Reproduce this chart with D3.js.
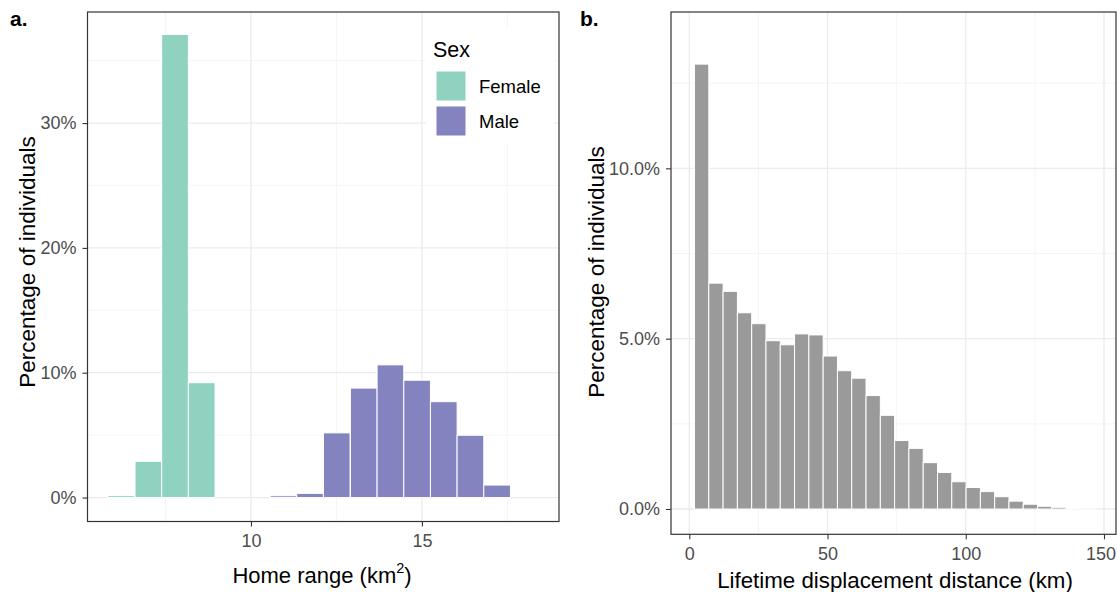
<!DOCTYPE html>
<html>
<head>
<meta charset="utf-8">
<script src="https://cdn.jsdelivr.net/npm/d3@7"></script>
<style>
  body { margin: 0; background: #fff; }
  svg { display: block; font-family: "Liberation Sans", Arial, sans-serif; }
  .tick text { fill: #4d4d4d; }
  .tick line { stroke: #333; }
</style>
</head>
<body>
<div id="chart"></div>
<script>
// panel a: home range histogram by sex (bin centres, % of individuals)
const femaleBins = [6.21, 7.0, 7.78, 8.56];
const femalePct = [0.15, 2.9, 37.1, 9.2];
const maleBins = [10.95, 11.73, 12.51, 13.3, 14.08, 14.86, 15.64, 16.42, 17.2];
const malePct = [0.14, 0.33, 5.18, 8.77, 10.63, 9.4, 7.68, 4.99, 1.0];
const sexLabels = ["Female", "Male"];
const homeTicks = [10, 15];
const homePctTicks = [0, 10, 20, 30];

// panel b: lifetime displacement distance histogram
const distBins = [4.47, 9.64, 14.81, 19.98, 25.15, 30.32, 35.49, 40.66, 45.83, 51.0,
  56.17, 61.34, 66.51, 71.68, 76.85, 82.02, 87.19, 92.36, 97.53, 102.7,
  107.87, 113.04, 118.21, 123.38, 128.55, 133.72, 138.89, 144.06];
const distPct = [13.06, 6.63, 6.39, 5.76, 5.44, 4.94, 4.82, 5.14, 5.11, 4.49,
  4.06, 3.84, 3.33, 2.75, 2.01, 1.78, 1.36, 1.07, 0.8, 0.63,
  0.51, 0.36, 0.23, 0.14, 0.08, 0.05, 0.02, 0.01];
const distTicks = [0, 50, 100, 150];
const distPctTicks = [0, 5, 10];

const colFemale = "#8ed2bf", colMale = "#8383bf", colGrey = "#9a9a9a";

const svg = d3.select("#chart").append("svg")
  .attr("width", 1117).attr("height", 592);

function panel(opt) {
  let x = d3.scaleLinear().domain(opt.xDomain).range([opt.left, opt.right]);
  let y = d3.scaleLinear().domain(opt.yDomain).range([opt.bottom, opt.top]);
  let g = svg.append("g");

  // grid
  let grid = g.append("g").attr("fill", "none");
  opt.xMinor.forEach(v => grid.append("line").attr("x1", x(v)).attr("x2", x(v))
    .attr("y1", opt.top).attr("y2", opt.bottom).attr("stroke", "#f0f0f0").attr("stroke-width", 0.7));
  opt.yMinor.forEach(v => grid.append("line").attr("y1", y(v)).attr("y2", y(v))
    .attr("x1", opt.left).attr("x2", opt.right).attr("stroke", "#f0f0f0").attr("stroke-width", 0.7));
  opt.xTicks.forEach(v => grid.append("line").attr("x1", x(v)).attr("x2", x(v))
    .attr("y1", opt.top).attr("y2", opt.bottom).attr("stroke", "#ebebeb").attr("stroke-width", 1.3));
  opt.yTicks.forEach(v => grid.append("line").attr("y1", y(v)).attr("y2", y(v))
    .attr("x1", opt.left).attr("x2", opt.right).attr("stroke", "#ebebeb").attr("stroke-width", 1.3));

  // bars
  opt.series.forEach(s => {
    g.append("g").selectAll("rect")
      .data(s.bins.map((b, i) => ({b: b, v: s.values[i]})))
      .join("rect")
      .attr("x", d => x(d.b - opt.binWidth / 2))
      .attr("width", d => x(d.b + opt.binWidth / 2) - x(d.b - opt.binWidth / 2))
      .attr("y", d => y(d.v))
      .attr("height", d => y(0) - y(d.v))
      .attr("fill", s.color)
      .attr("stroke", "#fff")
      .attr("stroke-width", 1);
  });

  // axes
  let xa = g.append("g").attr("transform", `translate(0,${opt.bottom})`)
    .call(d3.axisBottom(x).tickValues(opt.xTicks).tickSize(5).tickPadding(8).tickSizeOuter(0));
  let ya = g.append("g").attr("transform", `translate(${opt.left},0)`)
    .call(d3.axisLeft(y).tickValues(opt.yTicks).tickSize(5).tickPadding(6).tickFormat(opt.yFormat));
  [xa, ya].forEach(a => {
    a.select(".domain").remove();
    a.selectAll("text").attr("font-size", 18).attr("font-family", "Liberation Sans, Arial, sans-serif");
    a.selectAll("line").attr("stroke-width", 1.1);
  });

  // keep a label that sits on the window edge inside it
  xa.selectAll(".tick text").each(function() {
    let bb = this.getBBox(), t = this.parentNode.getAttribute("transform");
    let tx = +t.match(/translate\(([-\d.]+)/)[1];
    if (tx + bb.x + bb.width > 1116) {
      d3.select(this).attr("text-anchor", "end").attr("x", 1116 - tx);
    }
  });

  // border
  g.append("rect").attr("x", opt.left).attr("y", opt.top)
    .attr("width", opt.right - opt.left).attr("height", opt.bottom - opt.top)
    .attr("fill", "none").attr("stroke", "#333").attr("stroke-width", 1.2);

  // titles
  g.append("text").attr("transform", `translate(${opt.yTitleX},${opt.yTitleY}) rotate(-90)`)
    .attr("text-anchor", "middle").attr("dominant-baseline", "central")
    .attr("font-size", 22.5).text("Percentage of individuals");
  g.append("text").attr("x", opt.tagX).attr("y", 26)
    .attr("font-size", 21).attr("font-weight", "bold").text(opt.tag);
  return {x, y, g};
}

let a = panel({
  left: 87.5, right: 559, top: 12, bottom: 521.5,
  xDomain: [5.22, 19.01], yDomain: [-1.92, 38.9],
  xTicks: homeTicks, xMinor: [7.5, 12.5, 17.5],
  yTicks: homePctTicks, yMinor: [5, 15, 25, 35],
  yFormat: d => d + "%",
  binWidth: 0.78,
  series: [
    {bins: femaleBins, values: femalePct, color: colFemale},
    {bins: maleBins, values: malePct, color: colMale}
  ],
  yTitleX: 27, yTitleY: 262, tag: "a.", tagX: 10
});

let xtA = a.g.append("text").attr("x", 322).attr("y", 583)
  .attr("text-anchor", "middle").attr("font-size", 22);
xtA.append("tspan").text("Home range (km");
xtA.append("tspan").attr("font-size", 14.5).attr("dy", -10).text("2");
xtA.append("tspan").attr("dy", 10).text(")");

// legend
let leg = a.g.append("g");
leg.append("rect").attr("x", 426).attr("y", 28).attr("width", 128).attr("height", 116).attr("fill", "#fff");
leg.append("text").attr("x", 433).attr("y", 57).attr("font-size", 21.5).text("Sex");
[colFemale, colMale].forEach((c, i) => {
  leg.append("rect").attr("x", 436).attr("y", 71 + i * 35).attr("width", 30).attr("height", 30)
    .attr("fill", c).attr("stroke", "#fff").attr("stroke-width", 1);
  leg.append("text").attr("x", 479).attr("y", 86 + i * 35).attr("dominant-baseline", "central")
    .attr("font-size", 18.5).text(sexLabels[i]);
});

let b = panel({
  left: 671, right: 1116, top: 12, bottom: 534.3,
  xDomain: [-6.62, 154.34], yDomain: [-0.743, 14.59],
  xTicks: distTicks, xMinor: [25, 75, 125],
  yTicks: distPctTicks, yMinor: [2.5, 7.5, 12.5],
  yFormat: d => d.toFixed(1) + "%",
  binWidth: 5.17,
  series: [{bins: distBins, values: distPct, color: colGrey}],
  yTitleX: 596, yTitleY: 272, tag: "b.", tagX: 580
});

b.g.append("text").attr("x", 895).attr("y", 588)
  .attr("text-anchor", "middle").attr("font-size", 22.3)
  .text("Lifetime displacement distance (km)");
</script>
</body>
</html>
